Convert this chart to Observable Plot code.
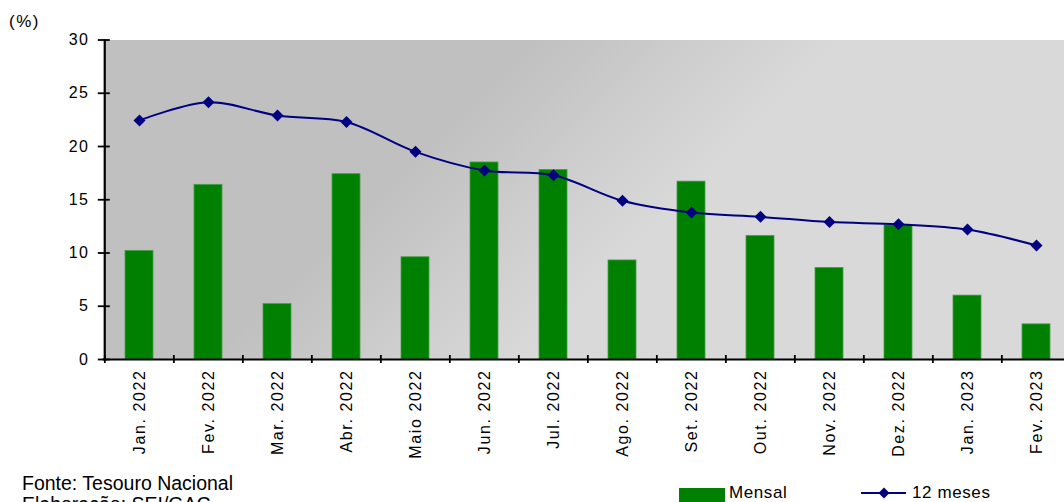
<!DOCTYPE html>
<html><head><meta charset="utf-8">
<script src="https://cdn.jsdelivr.net/npm/d3@7"></script>
<script src="https://cdn.jsdelivr.net/npm/@observablehq/plot@0.6"></script>
<style>
body{margin:0;overflow:hidden;background:#fff;}
#wrap{position:relative;width:1064px;height:502px;overflow:hidden;font-family:"Liberation Sans",Arial,sans-serif;color:#000;}
#chart{position:absolute;left:0;top:0;}
.ylab{position:absolute;left:9px;top:12px;font-size:17px;letter-spacing:1.5px;}
.foot{position:absolute;font-family:"Liberation Sans",Arial,sans-serif;font-size:19.5px;white-space:nowrap;line-height:22px;}
.leg{position:absolute;font-family:"Liberation Sans",Arial,sans-serif;font-size:17px;white-space:nowrap;line-height:19px;letter-spacing:0.6px;}
</style></head><body>
<div id="wrap">
  <div id="chart"></div>
  <div class="ylab">(%)</div>
  <div class="foot" style="left:22px;top:472px;">Fonte: Tesouro Nacional</div>
  <div class="foot" style="left:22px;top:493px;">Elaboração: SEI/GAC</div>
  <div style="position:absolute;left:679px;top:488px;width:46px;height:14px;background:#008000;"></div>
  <div class="leg" style="left:729px;top:483px;">Mensal</div>
  <svg style="position:absolute;left:858px;top:486px;" width="52" height="14"><line x1="3" y1="7" x2="48" y2="7" stroke="#000080" stroke-width="2"/><path d="M26,1.5L31.5,7L26,12.5L20.5,7Z" fill="#000080"/></svg>
  <div class="leg" style="left:912px;top:483px;">12 meses</div>
</div>
<script>
const months = ["Jan. 2022","Fev. 2022","Mar. 2022","Abr. 2022","Maio 2022","Jun. 2022","Jul. 2022","Ago. 2022","Set. 2022","Out. 2022","Nov. 2022","Dez. 2022","Jan. 2023","Fev. 2023"];
const mensal = [10.2,16.4,5.2,17.4,9.6,18.5,17.8,9.3,16.7,11.6,8.6,12.6,6.0,3.3];
const dozeMeses = [22.45,24.15,22.9,22.3,19.5,17.75,17.3,14.9,13.8,13.4,12.9,12.7,12.2,10.7];
const yTicks = [0,5,10,15,20,25,30];

const data = months.map((m,i)=>({m, mensal:mensal[i], doze:dozeMeses[i]}));

const plot = Plot.plot({
  width:1064, height:470,
  marginTop:39.5, marginLeft:102.5, marginRight:-8.7, marginBottom:111,
  style:{fontFamily:"'Liberation Sans',Arial,sans-serif", background:"transparent", color:"#000", overflow:"hidden"},
  x:{domain:months, paddingInner:0.6, paddingOuter:0.3, label:null},
  y:{domain:[0,30], label:null},
  marks:[
    Plot.frame({fill:"url(#bgGrad)", stroke:null}),
    Plot.barY(data,{x:"m", y:"mensal", fill:"#008000", stroke:"#4a9c4a", strokeWidth:0.8}),
    Plot.line(data,{x:"m", y:"doze", stroke:"#000080", strokeWidth:2, curve:"catmull-rom"}),
    Plot.dot(data,{x:"m", y:"doze", symbol:"diamond2", r:5.4, fill:"#000080", stroke:"none"}),
    Plot.ruleY([0],{stroke:"#000", strokeWidth:2}),
    Plot.ruleX([months[0]],{stroke:"#000", strokeWidth:2, dx:-34.65}),
    Plot.axisY({ticks:yTicks, tickSize:12, dx:7.3, tickFormat:()=>"", label:null, strokeWidth:1.8}),
    Plot.axisY({ticks:yTicks, tickSize:0, tickPadding:14, label:null, fontSize:16}),
    Plot.axisX({tickSize:8, dx:-34.65, dy:-4, tickFormat:()=>"", label:null, strokeWidth:1.8}),
    Plot.axisX({tickSize:0, tickRotate:-90, tickPadding:10, label:null, fontSize:16})
  ]
});
const svg = d3.select(plot);
const defs = svg.insert("defs", ":first-child");
const g = defs.append("linearGradient").attr("id","bgGrad").attr("gradientUnits","userSpaceOnUse")
  .attr("x1",285).attr("y1",285).attr("x2",440).attr("y2",440);
g.append("stop").attr("offset","0").attr("stop-color","#c0c0c0");
g.append("stop").attr("offset","1").attr("stop-color","#d9d9d9");
svg.selectAll("g[aria-label='x-axis tick label']").style("letter-spacing","1.6px");
svg.selectAll("g[aria-label='y-axis tick label']").style("font-size","16px").style("letter-spacing","1.2px");
document.getElementById("chart").appendChild(plot);
</script>
</body></html>
